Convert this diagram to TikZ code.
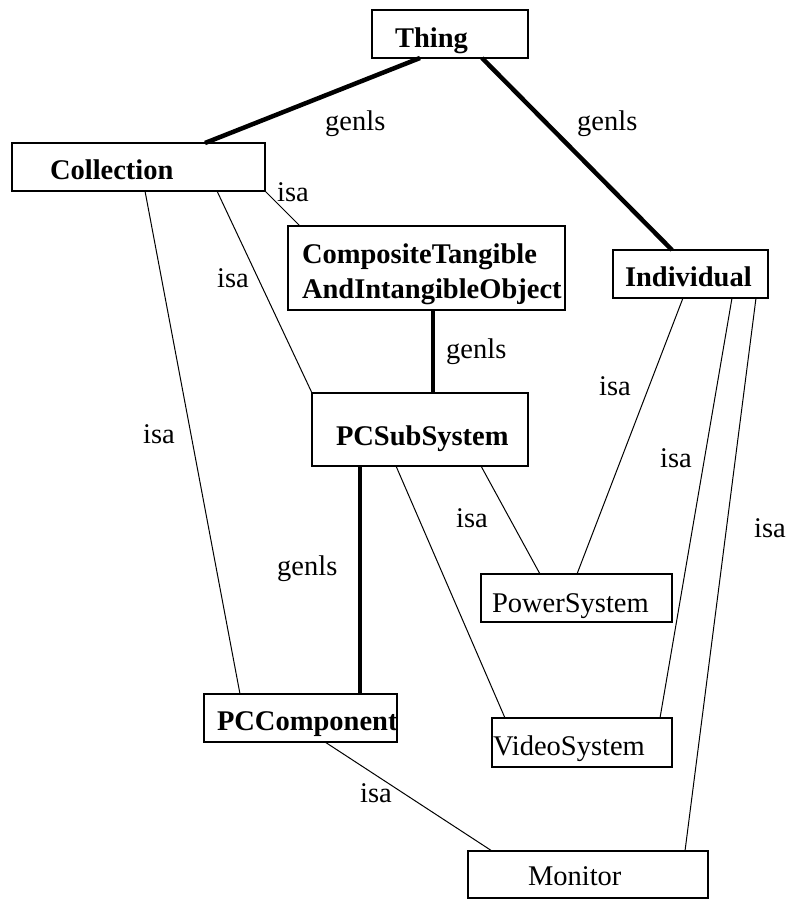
\documentclass[tikz,border=0pt]{standalone}
\usepackage{fontspec}
\setmainfont{Liberation Serif}
\usetikzlibrary{calc}
\tikzset{
  box/.style={draw, line width=1.1pt, anchor=north west, inner ysep=0pt, outer sep=0pt, align=left,
    font=\bfseries\fontsize{28.5}{35}\selectfont},
  plainbox/.style={box, font=\fontsize{28.5}{35}\selectfont},
  genlsline/.style={line width=4.5pt},
  isaline/.style={line width=1pt},
  lbl/.style={anchor=base west, inner sep=0pt, font=\fontsize{28.5}{35}\selectfont}
}
\begin{document}
\begin{tikzpicture}[x=1pt,y=-1pt]
\useasboundingbox (0,0) rectangle (792,900);
% nodes
\node[box, text width=110pt, inner xsep=23pt, text height=37pt, text depth=11pt] (thing) at (372,10) {\mbox{Thing}};
\node[box, text width=177pt, inner xsep=38pt, text height=36pt, text depth=12pt] (coll) at (12,143) {\mbox{Collection}};
\node[box, text width=249pt, inner xsep=14pt, text height=37pt, text depth=47pt] (comp) at (288,226) {\mbox{CompositeTangible}\\\mbox{AndIntangibleObject}};
\node[box, text width=131pt, inner xsep=12pt, text height=36pt, text depth=12pt] (indiv) at (613,250) {\mbox{Individual}};
\node[box, text width=168pt, inner xsep=24pt, text height=52pt, text depth=21pt] (pcsub) at (312,393) {\mbox{PCSubSystem}};
\node[plainbox, text width=169pt, inner xsep=11pt, text height=38pt, text depth=10pt] (power) at (481,574) {\mbox{PowerSystem}};
\node[box, text width=167pt, inner xsep=13pt, text height=36pt, text depth=12pt] (pccomp) at (204,694) {\mbox{PCComponent}};
\node[plainbox, text width=178pt, inner xsep=1pt, text height=37pt, text depth=12pt] (video) at (492,718) {\mbox{VideoSystem}};
\node[plainbox, text width=120pt, inner xsep=60pt, text height=34pt, text depth=13pt] (monitor) at (468,851) {\mbox{Monitor}};
% connectors
\draw[genlsline] ($(thing.south west)+(48,0)$) -- ($(coll.north west)+(193,0)$);
\draw[genlsline] ($(thing.south west)+(110,0)$) -- ($(indiv.north west)+(59,0)$);
\draw[isaline] (coll.south east) -- ($(comp.north west)+(12,0)$);
\draw[genlsline] ($(comp.south west)+(145,0)$) -- ($(pcsub.north west)+(121,0)$);
\draw[isaline] ($(coll.south west)+(205,0)$) -- (pcsub.north west);
\draw[isaline] ($(coll.south west)+(133,0)$) -- ($(pccomp.north west)+(36,0)$);
\draw[genlsline] ($(pcsub.south west)+(48,0)$) -- ($(pccomp.north west)+(156,0)$);
\draw[isaline] ($(pcsub.south west)+(169,0)$) -- ($(power.north west)+(59,0)$);
\draw[isaline] ($(indiv.south west)+(70,0)$) -- ($(power.north west)+(96,0)$);
\draw[isaline] ($(pcsub.south west)+(84,0)$) -- ($(video.north west)+(13,0)$);
\draw[isaline] ($(indiv.south west)+(119,0)$) -- ($(video.north west)+(168,0)$);
\draw[isaline] ($(pccomp.south west)+(121,0)$) -- ($(monitor.north west)+(24,0)$);
\draw[isaline] ($(indiv.south west)+(143,0)$) -- ($(monitor.north west)+(217,0)$);
% labels
\node[lbl] (l1) at (325,130) {genls};
\node[lbl] (l2) at (577,130) {genls};
\node[lbl] (l3) at (277,201) {isa};
\node[lbl] (l4) at (217,287) {isa};
\node[lbl] (l5) at (446,358) {genls};
\node[lbl] (l6) at (599,395) {isa};
\node[lbl] (l7) at (143,443) {isa};
\node[lbl] (l8) at (660,467) {isa};
\node[lbl] (l9) at (456,527) {isa};
\node[lbl] (l10) at (754,537) {isa};
\node[lbl] (l11) at (277,575) {genls};
\node[lbl] (l12) at (360,802) {isa};
\end{tikzpicture}
\end{document}
